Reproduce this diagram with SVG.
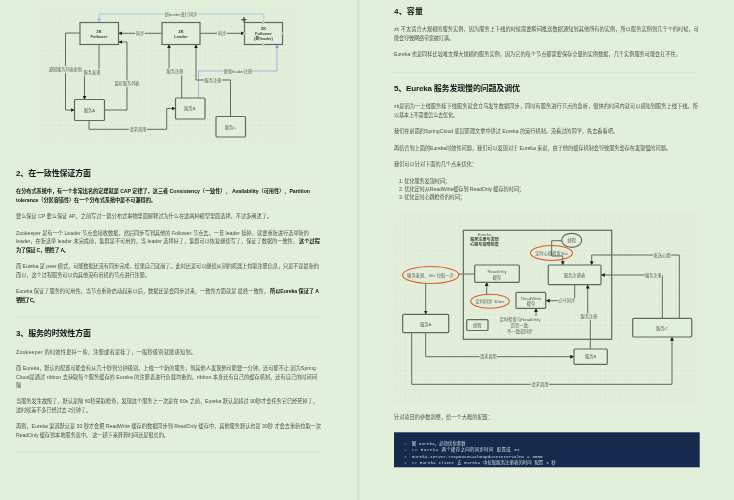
<svg xmlns="http://www.w3.org/2000/svg" width="734" height="500" viewBox="0 0 734 500">
<style>
text{font-family:"Liberation Sans","Noto Sans CJK SC",sans-serif;dominant-baseline:central}
.b{font-size:5.2px;fill:#4a5448}
.s{font-size:5.2px;fill:#151814;font-weight:700}
.h{font-size:8px;fill:#151814;font-weight:700}
.l{font-size:4.2px;fill:#586456;text-anchor:middle;paint-order:stroke;stroke:#e2efda;stroke-width:1.6px}
.t{font-size:4.3px;fill:#586456;text-anchor:middle}
.tb{font-size:4.1px;fill:#3c443a;text-anchor:middle;font-weight:700}
.c{font-size:4.4px;fill:#d3dcdf;font-family:"Liberation Mono","Noto Sans CJK SC",monospace}
.n{font-size:4.4px;fill:#6f8296;font-family:"Liberation Mono",monospace}
.box{fill:#e2efda;stroke:#5f6c5c;stroke-width:1.2}
.line{fill:none;stroke:#5f6c5c;stroke-width:1;marker-end:url(#a)}
.plain{fill:none;stroke:#5f6c5c;stroke-width:1}
.red{fill:none;stroke:#e8562c;stroke-width:1.1}
.hr{stroke:#d3e5cc;stroke-width:.8}
.hd{fill:#e2efda;stroke:#c98f80;stroke-width:.6}
</style>
<defs>
<filter id="soft" filterUnits="userSpaceOnUse" x="0" y="0" width="734" height="500"><feGaussianBlur stdDeviation="0.3"/></filter>
<pattern id="g" width="25" height="25" patternUnits="userSpaceOnUse">
<path d="M5 0V25M10 0V25M15 0V25M20 0V25M0 5H25M0 10H25M0 15H25M0 20H25" stroke="#dbe8d3" stroke-width=".4" fill="none"/>
<path d="M0 0V25M0 0H25" stroke="#d5e3cd" stroke-width=".6" fill="none"/>
</pattern>
<marker id="a" markerUnits="userSpaceOnUse" markerWidth="4" markerHeight="4" refX="3.6" refY="2" orient="auto"><path d="M0 0L4 2L0 4Z" fill="#1f241e"/></marker>
<marker id="ab" markerUnits="userSpaceOnUse" markerWidth="4" markerHeight="4" refX="3.6" refY="2" orient="auto"><path d="M0 0L4 2L0 4Z" fill="#8fc3de"/></marker>
<marker id="ap" markerUnits="userSpaceOnUse" markerWidth="4" markerHeight="4" refX="3.6" refY="2" orient="auto"><path d="M0 0L4 2L0 4Z" fill="#8f98e6"/></marker>
</defs>
<rect width="734" height="500" fill="#e2efda"/>
<g filter="url(#soft)">
<rect x="357.4" y="0" width="1.8" height="500" fill="#d3e3cb"/>

<rect x="38" y="5" width="260" height="138" fill="url(#g)"/>
<rect x="394" y="213" width="306" height="190" fill="url(#g)"/>

<g id="connectors">
<path d="M263.7 22.5V14H99V22" fill="none" stroke="#9fcbe0" stroke-width=".9" marker-end="url(#ab)"/>
<path d="M198.5 98V71H277V44.7" fill="none" stroke="#a3aae8" stroke-width=".9" marker-end="url(#ap)"/>
<path class="line" d="M162 33.3H118.7"/>
<path class="line" d="M200 33.3H244.3"/>
<path class="line" d="M80 33H65.5V110H74.3"/>
<path class="line" d="M99 44.5V72H84.5V99.3"/>
<path class="line" d="M104.5 110H127V42H118.7"/>
<path class="line" d="M89 120.5V129.3H166.7V108.5H175.3"/>
<path class="line" d="M181.7 98V71H169V44.7"/>
<path class="line" d="M230.5 116.5V80H196V44.7"/>
<text class="l" x="181" y="14">新leader进行同步</text>
<text class="l" x="140" y="33.3">同步</text>
<text class="l" x="222" y="33.3">同步</text>
<text class="l" x="65.5" y="69.5">通知服务列表更新</text>
<text class="l" x="92" y="72">服务发现</text>
<text class="l" x="127" y="83">监听服务列表</text>
<text class="l" x="138" y="129.5">请求调用</text>
<text class="l" x="175" y="71">服务注册</text>
<text class="l" x="213" y="80">服务注册</text>
<text class="l" x="238" y="71">更新leader注册</text>

<path class="plain" d="M474.7 274H459"/>
<path class="line" d="M425.7 283.5V314.1"/>
<path class="line" d="M486.7 294.3V282.5"/>
<path class="line" d="M536 316V308.5"/>
<path class="plain" d="M561.7 240.7H551.7V256"/>
<path class="line" d="M551.7 256H562.7V264.8"/>
<path class="line" d="M574.7 284.7V300.7H546.2"/>
<path class="line" d="M590.3 349V316.7H587.7V284.9"/>
<path class="line" d="M679.3 318.3V255H591.7V264.8"/>
<path class="line" d="M662.3 318.3V275H601.2"/>
<path class="line" d="M411.7 332.7V384.3H672V337.2"/>
<path class="line" d="M425.7 332.7V356.7H573.8"/>
<text class="l" x="566.7" y="300.7">立马同步</text>
<text class="l" x="589" y="316.7">服务注册</text>
<text class="l" x="662" y="255">发送心跳</text>
<text class="l" x="653.3" y="275">服务注册</text>
<text class="l" x="540" y="384.3">请求调用</text>
<text class="l" x="488.3" y="356.7">请求调用</text>
</g>

<g id="zk-follower"><rect class="box" x="80" y="22.5" width="38.5" height="22"/><text class="tb" x="99" y="31">ZK</text><text class="tb" x="99" y="36">Follower</text></g>
<g id="zk-leader"><rect class="box" x="162" y="22.5" width="38" height="22"/><text class="tb" x="181" y="31">ZK</text><text class="tb" x="181" y="36">Leader</text></g>
<g id="zk-new-leader"><rect class="box" x="244.5" y="22.5" width="38" height="22"/><text class="tb" x="263.5" y="28.7">ZK</text><text class="tb" x="263.5" y="33.5">Follower</text><text class="tb" x="263.5" y="38.5">(新leader)</text>
<circle class="hd" cx="263.5" cy="22.5" r="1"/><circle class="hd" cx="244.5" cy="33.5" r="1"/><circle class="hd" cx="282.5" cy="33.5" r="1"/><circle class="hd" cx="263.5" cy="44.5" r="1"/>
<path d="M244 17V22.4M241.3 19.7H246.7" stroke="#2d332b" stroke-width="1.1" fill="none"/></g>
<g id="service-a"><rect class="box" x="74.5" y="99.5" width="30" height="21" rx="1"/><text class="t" x="89.5" y="110">服务A</text></g>
<g id="service-b"><rect class="box" x="175.5" y="98" width="29.5" height="21" rx="1"/><text class="t" x="190" y="108.5">服务B</text></g>
<g id="service-c"><rect class="box" x="216" y="116.5" width="29.5" height="20.5" rx="1"/><text class="t" x="230.5" y="127">服务C</text></g>

<g id="eureka"><rect x="463.3" y="230.3" width="148.4" height="109" fill="none" stroke="#5f6c5c" stroke-width="1.2"/><text class="t" x="484.5" y="234">Eureka</text><text class="tb" x="484.5" y="239.5">服务注册与发现</text><text class="tb" x="484.5" y="244.7">心跳与故障检查</text></g>
<g id="readonly"><rect class="box" x="474.7" y="265" width="44.6" height="17.3" rx="1"/><text class="t" x="497" y="271">ReadOnly</text><text class="t" x="497" y="277">缓存</text></g>
<g id="readwrite"><rect class="box" x="516" y="292.3" width="29.7" height="16" rx="1"/><text class="t" x="531" y="298">ReadWrite</text><text class="t" x="531" y="303.5">缓存</text></g>
<g id="thread-1"><rect class="box" x="466.7" y="319.7" width="21.3" height="10.8" rx="1"/><text class="t" x="477.3" y="325">线程</text></g>
<g id="check-note"><text class="t" x="520" y="319.7">定时检查与ReadOnly</text><text class="t" x="520" y="325.3">是否一致,</text><text class="t" x="520" y="331">不一致就同步</text></g>
<g id="svc-a2"><rect class="box" x="402.7" y="314.3" width="46" height="18.4" rx="1"/><text class="t" x="425.7" y="324">服务A</text></g>
<g id="registry"><rect class="box" x="548.3" y="265" width="52.7" height="19.7" rx="1"/><text class="t" x="574.5" y="275">服务注册表</text></g>
<g id="svc-b2"><rect class="box" x="574" y="349" width="33.3" height="15.3" rx="1"/><text class="t" x="590.7" y="356.7">服务B</text></g>
<g id="svc-c2"><rect class="box" x="632.7" y="318.3" width="59" height="18.7" rx="1"/><text class="t" x="662" y="328">服务C</text></g>
<g id="thread-2"><ellipse class="box" cx="571.7" cy="240.3" rx="10" ry="7"/><text class="t" x="571.7" y="240.3">线程</text></g>
<g id="note-discovery"><ellipse class="red" cx="430.7" cy="275" rx="28.2" ry="8.5"/><text class="t" x="430.5" y="275">服务发现、30s 拉取一次</text></g>
<g id="note-sync"><ellipse class="red" cx="490" cy="301.3" rx="19.3" ry="7"/><text class="t" x="490" y="301.3">定时同步 30ms</text></g>
<g id="note-heartbeat"><ellipse class="red" cx="551.5" cy="253" rx="21" ry="7.5"/><text class="t" x="551.5" y="253">定时心跳检查30s</text></g>

<text class="h" x="16" y="173.3" textLength="75">2、在一致性保证方面</text>
<text class="s" x="16" y="191.3" textLength="294">在分布式系统中，有一个非常出名的定理就是 CAP 定律了。这三者 Consistency（一致性）、 Availability（可用性）、Partition</text>
<text class="s" x="16" y="200" textLength="140">tolerance（分区容错性）在一个分布式系统中是不可兼得的。</text>
<text class="b" x="16" y="216" textLength="256">要么保证 CP 要么保证 AP。之前写过一篇分布式事物里面解释过为什么在这两种模型里面选择，不过多阐述了。</text>
<text class="b" x="16" y="232.5" textLength="293">Zookeeper 是有一个 Leader 节点会接收数据，然后同步写到其他的 Follower 节点去。一旦 leader 挂掉，就要重新进行选举新的</text>
<text class="b" x="16" y="241" textLength="282">leader，在新选举 leader 未完成前，集群是不可用的，当 leader 选择好了，集群可以恢复继续写了，保证了数据的一致性，</text>
<text class="s" x="299" y="241" textLength="21">这个过程</text>
<text class="s" x="16" y="249.5" textLength="53">为了保证 C，牺牲了 A。</text>
<text class="b" x="16" y="266" textLength="303">而 Eureka 是 peer 模式，可能数据还没有同步完成，结果自己就崩了。此时还是可以继续从别的机器上拉取注册信息，只是不是最新的</text>
<text class="b" x="16" y="274.5" textLength="134">而以，这个过程服务可以向其他没有宕机的节点进行注册。</text>
<text class="b" x="16" y="291" textLength="253">Eureka 保证了服务的可用性，当节点重新启动起来以后，数据还是会同步过来，一致性方面就是 最终一致性，</text>
<text class="s" x="270" y="291" textLength="49">所以Eureka 保证了 A</text>
<text class="s" x="16" y="299.5" textLength="22">牺牲了 C。</text>
<line class="hr" x1="16" y1="317.3" x2="321" y2="317.3"/>
<text class="h" x="16" y="333.7" textLength="75">3、服务的时效性方面</text>
<text class="b" x="16" y="351.7" textLength="180">Zookeeper 的时效性更好一些，注册或者是挂了，一般秒级别就能感知到。</text>
<text class="b" x="16" y="368" textLength="300">而 Eureka，默认的配置可能会有从几十秒到分钟级别。上线一个新的服务，到其他人发现他可能要一分钟，还可能不止,因为Spring</text>
<text class="b" x="16" y="376.7" textLength="301">Cloud是通过 ribbon 去获取每个服务缓存的 Eureka 的注册表进行负载均衡的。ribbon 本身还有自己的缓存机制，还有自己的时间间</text>
<text class="b" x="16" y="385" textLength="7">隔。</text>
<text class="b" x="16" y="401.3" textLength="302">当服务发生故障了，默认是隔 60秒采取检查，发现这个服务上一次是在 60s 之前，Eureka 默认是超过 90秒才会任务它已经死掉了，</text>
<text class="b" x="16" y="410" textLength="75">这时候差不多已经过去 2分钟了。</text>
<text class="b" x="16" y="426" textLength="305">再则，Eureka 渠道默认是 30 秒才会把 ReadWrite 缓存的数据同步到 ReadOnly 缓存中，其他服务默认也是 30秒 才会去重新拉取一次</text>
<text class="b" x="16" y="435" textLength="153">ReadOnly 缓存到本地服务表中。 这一趟下来算算时间还是很长的。</text>
<line class="hr" x1="16" y1="452.3" x2="321" y2="452.3"/>

<text class="h" x="394" y="11.5" textLength="29">4、容量</text>
<text class="b" x="394" y="29.3" textLength="305">zk 不太适合大规模的服务实例，因为服务上下线的时候需要瞬间推送数据通知到其他所有的实例，所以服务实例到几千个的时候，可</text>
<text class="b" x="394" y="38" textLength="60">能会导致网络带宽被打满。</text>
<text class="b" x="394" y="54.3" textLength="287">Eureka 也是同样比较难支撑大规模的服务实例，因为它的每个节点都需要保存全量的实例数据，几千实例服务可能会扛不住。</text>
<line class="hr" x1="394" y1="72.3" x2="699" y2="72.3"/>
<text class="h" x="394" y="88.5" textLength="126">5、Eureka 服务发现慢的问题及调优</text>
<text class="b" x="394" y="106.3" textLength="304">zk是因为一上线服务挂下线服务就会立马发生数据同步，同时有服务进行节点的监听，很快的时间内就可以感知到服务上线下线。所</text>
<text class="b" x="394" y="115" textLength="64">以基本上不需要怎么去优化。</text>
<text class="b" x="394" y="131.3" textLength="224">我们在前面的SpringCloud 底层原理文章中讲过 Eureka 的运行机制。没看过的同学，先去看看吧。</text>
<text class="b" x="394" y="148" textLength="277">再结合到上面的Eureka时效性问题，我们可以发现对于 Eureka 来说，由于他的缓存机制会导致服务会存在发现慢的问题。</text>
<text class="b" x="394" y="164" textLength="83">我们可以针对下面的几个点来优化：</text>
<text class="b" x="399" y="181" textLength="51">1. 优化服务发现时间；</text>
<text class="b" x="399" y="189" textLength="125">2. 优化定时从ReadWrite缓存到 ReadOnly 缓存的时间；</text>
<text class="b" x="399" y="197.3" textLength="66">3. 优化定时心跳检查的时间；</text>
<text class="b" x="394" y="417.3" textLength="99">针对项目的参数调整，给一个大概的配置：</text>

<rect x="394" y="432.3" width="305.7" height="35" fill="#162c4d"/>
<text class="n" x="404" y="443.3">1</text><text class="n" x="404" y="449.7">2</text><text class="n" x="404" y="456">3</text><text class="n" x="404" y="462">4</text>
<text class="c" x="411.7" y="443.3" textLength="54">图 eureka，必须优化参数</text>
<text class="c" x="411.7" y="449.7" textLength="108">## Eureka  两个缓存之间的同步时间 配置成 3s</text>
<text class="c" x="411.7" y="456" textLength="131">eureka.server.responseCacheUpdateIntervalMs = 3000</text>
<text class="c" x="411.7" y="462" textLength="144">## Eureka client 去 Eureka 中拉取服务注册表的时间 配置 3 秒</text>
</g>
</svg>
